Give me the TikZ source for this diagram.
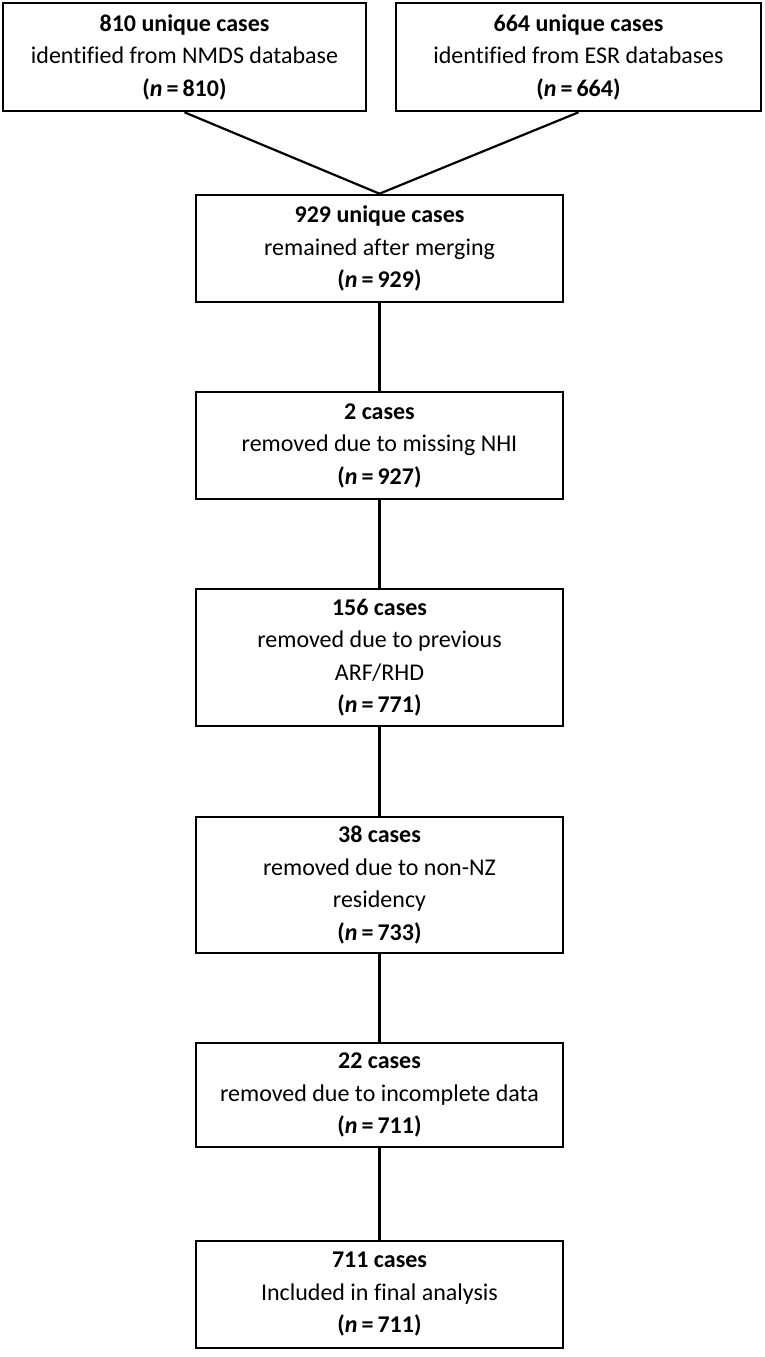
\documentclass[tikz,border=0pt]{standalone}
\usepackage{fontspec}
\setmainfont{Carlito}[Ligatures=NoCommon]
\begin{document}
\begin{tikzpicture}[x=1pt,y=-1pt,
  box/.style={draw=black, line width=2.6pt, inner sep=0pt, align=center,
    minimum width=367pt, font=\fontsize{24}{32.5}\selectfont},
  conn/.style={draw=black, line width=2.2pt}]
\useasboundingbox (0,0) rectangle (764,1357);
\node[box, minimum width=363pt, minimum height=108pt] (A) at (184.5,57)
  {\textbf{810 unique cases}\\identified from NMDS database\\\textbf{(\textit{n}\,=\,810)}};
\node[box, minimum width=365pt, minimum height=108pt] (B) at (578.5,57)
  {\textbf{664 unique cases}\\identified from ESR databases\\\textbf{(\textit{n}\,=\,664)}};
\node[box, minimum height=107pt] (C) at (379.5,248.5)
  {\textbf{929 unique cases}\\remained after merging\\\textbf{(\textit{n}\,=\,929)}};
\node[box, minimum height=107pt] (D) at (379.5,445.5)
  {\textbf{2 cases}\\removed due to missing NHI\\\textbf{(\textit{n}\,=\,927)}};
\node[box, minimum height=137pt] (E) at (379.5,657.5)
  {\textbf{156 cases}\\removed due to previous\\ARF/RHD\\\textbf{(\textit{n}\,=\,771)}};
\node[box, minimum height=136pt] (F) at (379.5,885)
  {\textbf{38 cases}\\removed due to non-NZ\\residency\\\textbf{(\textit{n}\,=\,733)}};
\node[box, minimum height=104pt] (G) at (379.5,1095)
  {\textbf{22 cases}\\removed due to incomplete data\\\textbf{(\textit{n}\,=\,711)}};
\node[box, minimum height=107pt] (H) at (379.5,1294.5)
  {\textbf{711 cases}\\Included in final analysis\\\textbf{(\textit{n}\,=\,711)}};
\draw[conn] (A.south) -- (C.north);
\draw[conn] (B.south) -- (C.north);
\draw[conn] (C) -- (D);
\draw[conn] (D) -- (E);
\draw[conn] (E) -- (F);
\draw[conn] (F) -- (G);
\draw[conn] (G) -- (H);
\end{tikzpicture}
\end{document}
